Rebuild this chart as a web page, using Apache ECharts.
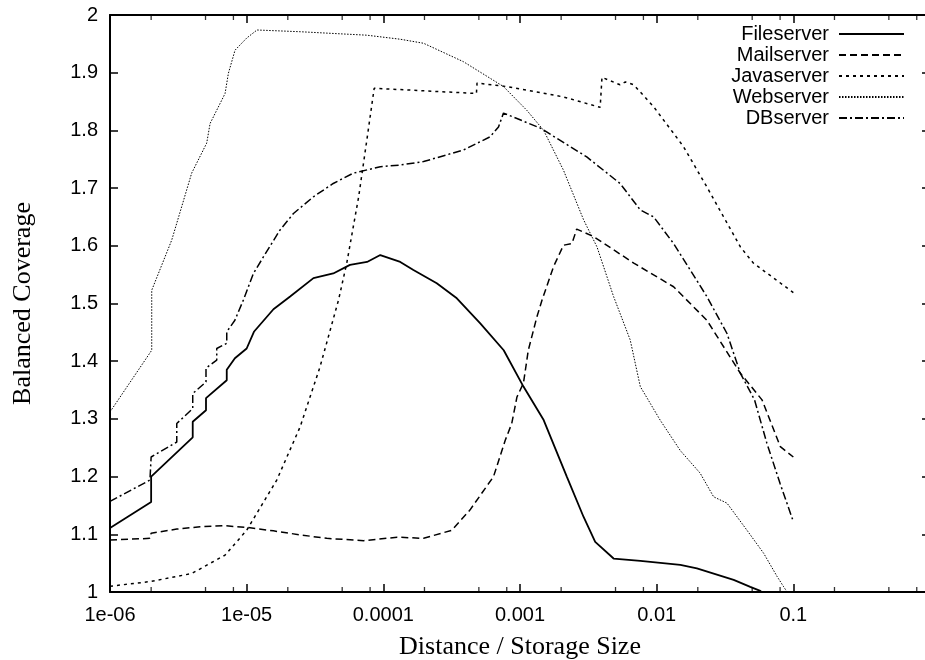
<!DOCTYPE html>
<html><head><meta charset="utf-8">
<script src="https://cdn.jsdelivr.net/npm/echarts@6/dist/echarts.min.js"></script>
<style>html,body{margin:0;padding:0;background:#fff}#c{width:925px;height:660px}</style>
</head><body><div id="c"></div>
<script>
const seriesNames = ['Fileserver', 'Mailserver', 'Javaserver', 'Webserver', 'DBserver'];
const xTickLabels = ['1e-06', '1e-05', '0.0001', '0.001', '0.01', '0.1'];
const yTickLabels = ['1', '1.1', '1.2', '1.3', '1.4', '1.5', '1.6', '1.7', '1.8', '1.9', '2'];
const minorTickMultipliers = [2, 5, 8];

const fileserverX = [1e-6, 2e-6, 2e-6, 4.03e-6, 4.03e-6, 5.04e-6, 5.04e-6, 7.15e-6, 7.15e-6, 8.2e-6, 1e-5, 1.13e-5, 1.57e-5, 2.08e-5, 3.08e-5, 4.3e-5, 5.7e-5, 7.6e-5, 9.5e-5, 1.33e-4, 1.66e-4, 2.46e-4, 3.45e-4, 5.1e-4, 7.6e-4, 1.06e-3, 1.49e-3, 2.2e-3, 2.92e-3, 3.55e-3, 4.84e-3, 7.6e-3, 1.49e-2, 1.97e-2, 3.66e-2, 4.84e-2, 5.73e-2, 6.5e-2];
const fileserverY = [1.111, 1.156, 1.200, 1.268, 1.295, 1.315, 1.336, 1.367, 1.385, 1.405, 1.422, 1.451, 1.490, 1.512, 1.544, 1.552, 1.567, 1.572, 1.584, 1.572, 1.558, 1.535, 1.509, 1.466, 1.419, 1.356, 1.298, 1.200, 1.130, 1.087, 1.058, 1.054, 1.047, 1.041, 1.021, 1.009, 1.002, 0.990];

const mailserverX = [1e-6, 1.96e-6, 2e-6, 3.08e-6, 4.56e-6, 6.76e-6, 1e-5, 1.57e-5, 2.46e-5, 3.86e-5, 7.2e-5, 1.26e-4, 1.97e-4, 3.17e-4, 4.3e-4, 6.4e-4, 7.8e-4, 8.7e-4, 9.5e-4, 1.06e-3, 1.15e-3, 1.33e-3, 1.45e-3, 1.76e-3, 2.08e-3, 2.4e-3, 2.6e-3, 3.45e-3, 6.8e-3, 1.33e-2, 2.33e-2, 4.1e-2, 5.9e-2, 8.03e-2, 0.1];
const mailserverY = [1.090, 1.093, 1.102, 1.109, 1.113, 1.115, 1.112, 1.106, 1.099, 1.093, 1.089, 1.095, 1.093, 1.107, 1.142, 1.200, 1.263, 1.292, 1.338, 1.362, 1.419, 1.477, 1.506, 1.564, 1.601, 1.604, 1.629, 1.616, 1.570, 1.529, 1.471, 1.379, 1.333, 1.252, 1.234];

const javaserverX = [1e-6, 1.96e-6, 3.96e-6, 6.95e-6, 1e-5, 1.66e-5, 2.46e-5, 3.44e-5, 4.7e-5, 5.4e-5, 6.6e-5, 7.57e-5, 8.57e-5, 4.8e-4, 4.85e-4, 8e-4, 2.08e-3, 3.86e-3, 3.98e-3, 5.4e-3, 5.9e-3, 6.8e-3, 9.5e-3, 1.57e-2, 2.33e-2, 4.1e-2, 5.1e-2, 0.1];
const javaserverY = [1.010, 1.018, 1.032, 1.064, 1.107, 1.194, 1.286, 1.390, 1.506, 1.570, 1.685, 1.783, 1.873, 1.864, 1.882, 1.876, 1.858, 1.840, 1.892, 1.879, 1.884, 1.879, 1.841, 1.772, 1.702, 1.598, 1.570, 1.519];

const webserverX = [1e-6, 2.02e-6, 2.02e-6, 2.83e-6, 3.96e-6, 5.1e-6, 5.4e-6, 6.95e-6, 7.35e-6, 8.22e-6, 1e-5, 1.19e-5, 2.46e-5, 7.57e-5, 1.33e-4, 1.97e-4, 3.86e-4, 7.57e-4, 1.12e-3, 1.49e-3, 2.08e-3, 2.92e-3, 3.66e-3, 4.84e-3, 6.4e-3, 7.59e-3, 1.06e-2, 1.49e-2, 2.08e-2, 2.61e-2, 3.27e-2, 4.58e-2, 6.07e-2, 7.6e-2, 8.5e-2, 9.0e-2];
const webserverY = [1.312, 1.419, 1.523, 1.610, 1.726, 1.778, 1.812, 1.864, 1.899, 1.939, 1.960, 1.974, 1.971, 1.965, 1.958, 1.951, 1.919, 1.876, 1.835, 1.800, 1.731, 1.645, 1.598, 1.512, 1.437, 1.356, 1.298, 1.245, 1.206, 1.165, 1.154, 1.107, 1.067, 1.027, 1.009, 1.000];

const dbserverX = [1e-6, 1.96e-6, 2e-6, 3.08e-6, 3.08e-6, 4.03e-6, 4.03e-6, 5.04e-6, 5.04e-6, 6.04e-6, 6.04e-6, 7.15e-6, 7.15e-6, 8.2e-6, 9.46e-6, 1.12e-5, 1.4e-5, 1.75e-5, 2.2e-5, 3.08e-5, 4.3e-5, 6.04e-5, 9.5e-5, 1.33e-4, 1.97e-4, 3.86e-4, 6.05e-4, 6.96e-4, 7.57e-4, 1.41e-3, 3.08e-3, 5.4e-3, 7.6e-3, 9.5e-3, 1.33e-2, 2.33e-2, 3.27e-2, 4.1e-2, 5.2e-2, 6.4e-2, 8e-2, 0.1];
const dbserverY = [1.157, 1.194, 1.234, 1.260, 1.292, 1.318, 1.344, 1.364, 1.388, 1.402, 1.422, 1.431, 1.451, 1.471, 1.506, 1.552, 1.590, 1.627, 1.656, 1.685, 1.708, 1.726, 1.737, 1.740, 1.746, 1.766, 1.789, 1.806, 1.830, 1.804, 1.754, 1.708, 1.662, 1.650, 1.604, 1.512, 1.448, 1.379, 1.333, 1.258, 1.188, 1.122];

const seriesX = [fileserverX, mailserverX, javaserverX, webserverX, dbserverX];
const seriesY = [fileserverY, mailserverY, javaserverY, webserverY, dbserverY];
const seriesDash = ['solid', [7, 4], [3, 4], [1.5, 1.5], [8, 3, 2, 3]];
const seriesWidth = [1.8, 1.5, 1.5, 1, 1.5];

// minor tick positions (real x values) from the multipliers
const minorTickX = [];
for (let k = -6; k < 0; k++) minorTickMultipliers.forEach(m => minorTickX.push(m * Math.pow(10, k)));

const sans = 'Liberation Sans';
const serif = 'Liberation Serif';
const axisLine = { show: true, lineStyle: { color: '#000', width: 2 } };
const majorTick = { show: true, inside: true, length: 8, lineStyle: { color: '#000', width: 1.5 } };

const lineSeries = seriesNames.map((name, i) => ({
  name: name, type: 'line', xAxisIndex: 0, yAxisIndex: 0,
  symbol: 'none', clip: true,
  lineStyle: { color: '#000', width: seriesWidth[i], type: seriesDash[i] },
  itemStyle: { color: '#000' },
  data: seriesX[i].map((x, j) => [x, seriesY[i][j]])
}));
const minorTickSeries = [
  { name: 'minorBottom', type: 'scatter', xAxisIndex: 0, yAxisIndex: 0, clip: false, silent: true,
    symbol: 'rect', symbolSize: [1.3, 5], symbolOffset: [0, -2.5], itemStyle: { color: '#000' },
    data: minorTickX.map(x => [x, 1]) },
  { name: 'minorTop', type: 'scatter', xAxisIndex: 0, yAxisIndex: 0, clip: false, silent: true,
    symbol: 'rect', symbolSize: [1.3, 5], symbolOffset: [0, 2.5], itemStyle: { color: '#000' },
    data: minorTickX.map(x => [x, 2]) }
];

const chart = echarts.init(document.getElementById('c'), null, { renderer: 'canvas' });
chart.setOption({
  animation: false,
  backgroundColor: '#fff',
  grid: { left: 110, top: 15, width: 820, height: 577, outerBoundsMode: 'none', containLabel: false },
  legend: {
    orient: 'vertical', right: 20, top: 24, align: 'right',
    itemWidth: 65, itemHeight: 14, itemGap: 1, padding: 0,
    itemStyle: { opacity: 0, color: 'transparent', borderWidth: 0 },
    textStyle: { fontFamily: sans, fontSize: 20, color: '#000', lineHeight: 20, width: 120, align: 'right', padding: [0, 5, 0, 0] },
    data: seriesNames
  },
  xAxis: [
    { type: 'log', position: 'bottom', min: 1e-6, max: 1, logBase: 10, splitNumber: 6,
      axisLine: axisLine, splitLine: { show: false }, axisTick: majorTick,
      axisLabel: { color: '#000', fontFamily: sans, fontSize: 20, margin: 13,
        formatter: v => { const t = xTickLabels[Math.round(Math.log10(v)) + 6]; return t === undefined ? '' : t; } },
      name: 'Distance / Storage Size', nameLocation: 'middle', nameGap: 42,
      nameTextStyle: { fontFamily: serif, fontSize: 26, color: '#000' } },
    { type: 'log', position: 'top', min: 1e-6, max: 1, logBase: 10, splitNumber: 6,
      axisLine: axisLine, splitLine: { show: false }, axisTick: majorTick,
      axisLabel: { show: false } }
  ],
  yAxis: [
    { type: 'value', position: 'left', min: 1, max: 2, interval: 0.1,
      axisLine: axisLine, splitLine: { show: false }, axisTick: majorTick,
      axisLabel: { color: '#000', fontFamily: sans, fontSize: 20, margin: 12,
        formatter: v => yTickLabels[Math.round((v - 1) * 10)] },
      name: 'Balanced Coverage', nameLocation: 'middle', nameGap: 74, nameRotate: 90,
      nameTextStyle: { fontFamily: serif, fontSize: 26, color: '#000' } },
    { type: 'value', position: 'right', min: 1, max: 2, interval: 0.1,
      axisLine: axisLine, splitLine: { show: false }, axisTick: majorTick,
      axisLabel: { show: false } }
  ],
  series: lineSeries.concat(minorTickSeries)
});
</script></body></html>
